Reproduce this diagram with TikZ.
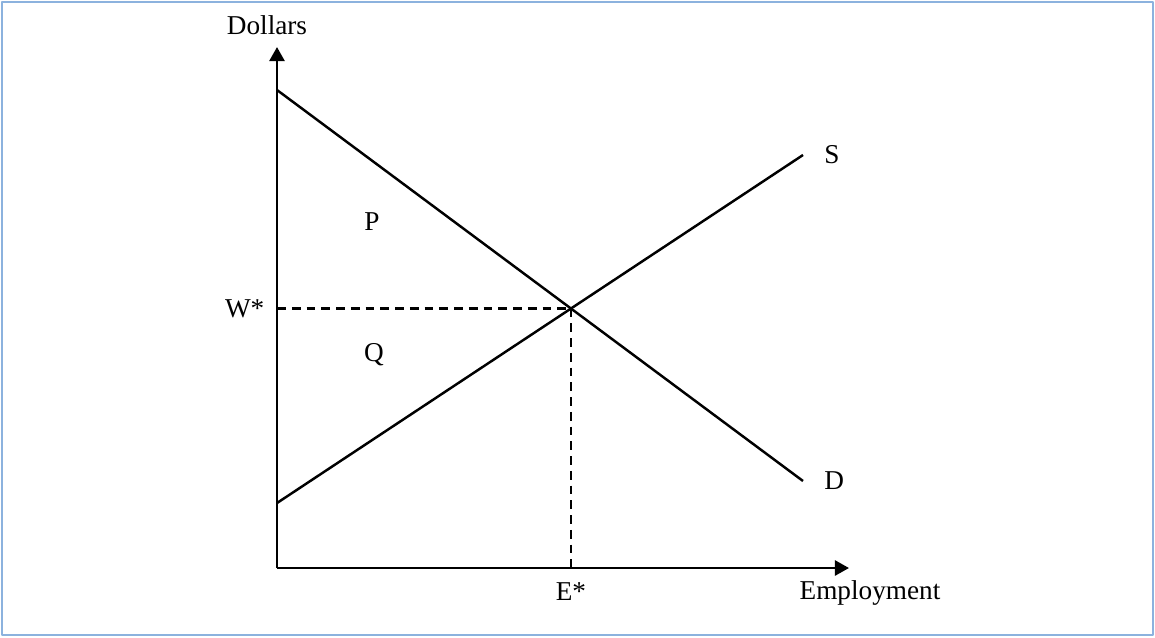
\documentclass[tikz,border=0pt]{standalone}
\usepackage{fontspec}
\setmainfont{Liberation Serif}
\usetikzlibrary{arrows.meta}
\definecolor{framebl}{RGB}{140,178,222}
\begin{document}
\begin{tikzpicture}[
		x=0.02cm, y=-0.02cm, line join=round,
		every node/.style={font=\fontsize{15.5}{18}\selectfont, inner sep=1pt},
		axis/.style={line width=1.6pt, -{Triangle[length=8pt, width=8.5pt]}},
		curve/.style={line width=1.4pt},
		guide/.style={line width=1.4pt, dash pattern=on 5pt off 3.4pt}
	]
	% 1. KHUNG
	\useasboundingbox (0,0) rectangle (1155,637);
	\draw[framebl, line width=1.2pt] (2,2) rectangle (1153,635);
	
	% 2. HỆ TRỤC
	\coordinate (O) at (277,568);
	\coordinate (ytip) at (277,47);
	\coordinate (xtip) at (849,568);
	\draw[axis] (O) -- (ytip);
	\draw[axis] (O) -- (xtip);
	\node (dollars) at (267,25) {Dollars};
	\node (employment) at (870,593) {Employment};
	
	% 3. CUNG VÀ CẦU
	\coordinate (d1) at (277,90);
	\coordinate (d2) at (803,481);
	\coordinate (s1) at (277,503);
	\coordinate (s2) at (803,155);
	\draw[curve] (d1) -- (d2);
	\draw[curve] (s1) -- (s2);
	\node[right=11pt] (Dlab) at (d2) {D};
	\node[right=11pt] (Slab) at (s2) {S};
	
	% 4. ĐIỂM CÂN BẰNG
	\coordinate (eq) at (intersection of d1--d2 and s1--s2);
	\coordinate (wax) at (O |- eq);
	\coordinate (eax) at (eq |- O);
	\draw[guide] (wax) -- (eq);
	\draw[guide] (eq) -- (eax);
	\node[left=6pt] (wstar) at (wax) {W*};
	\node[below=7pt] (estar) at (eax) {E*};
	
	% 5. VÙNG
	\node (P) at (372,222) {P};
	\node (Q) at (374,355) {Q};
\end{tikzpicture}
\end{document}
